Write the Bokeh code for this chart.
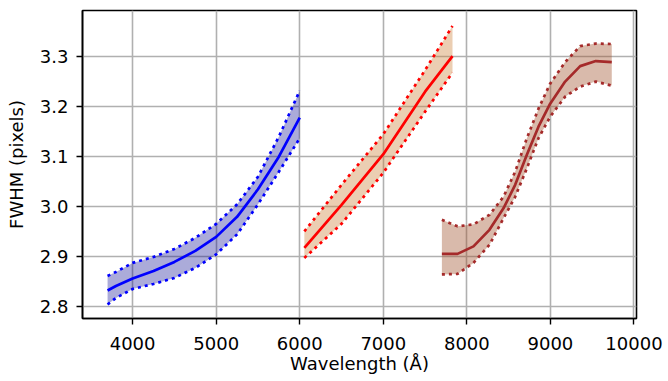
from bokeh.plotting import figure
from bokeh.models import Range1d, FixedTicker
from bokeh.embed import file_html
from bokeh.resources import INLINE

# Blue segment
blue_x = [3700, 3800, 4000, 4250, 4500, 4750, 5000, 5250, 5500, 5750, 6000]
blue_mid = [2.833, 2.842, 2.857, 2.872, 2.890, 2.912, 2.940, 2.980, 3.035, 3.100, 3.178]
blue_hi = [2.862, 2.870, 2.888, 2.900, 2.916, 2.938, 2.966, 3.005, 3.060, 3.140, 3.232]
blue_lo = [2.805, 2.818, 2.836, 2.846, 2.858, 2.878, 2.905, 2.945, 3.005, 3.070, 3.137]

# Red segment
red_x = [6055, 6500, 7000, 7500, 7828]
red_mid = [2.918, 3.004, 3.105, 3.230, 3.301]
red_hi = [2.951, 3.044, 3.145, 3.273, 3.361]
red_lo = [2.898, 2.966, 3.068, 3.190, 3.268]

# Brown segment
brown_x = [7701, 7888, 8079, 8270, 8438, 8578, 8718, 8857, 8997, 9176, 9356, 9543, 9734]
brown_mid = [2.906, 2.906, 2.921, 2.954, 2.997, 3.044, 3.104, 3.160, 3.206, 3.250, 3.281, 3.291, 3.289]
brown_hi = [2.974, 2.961, 2.965, 2.984, 3.020, 3.070, 3.137, 3.196, 3.246, 3.289, 3.321, 3.326, 3.325]
brown_lo = [2.865, 2.866, 2.888, 2.924, 2.977, 3.020, 3.077, 3.137, 3.180, 3.220, 3.240, 3.250, 3.242]

x_ticks = [4000, 5000, 6000, 7000, 8000, 9000, 10000]
y_ticks = [2.8, 2.9, 3.0, 3.1, 3.2, 3.3]
y_tick_labels = {2.8: "2.8", 2.9: "2.9", 3.0: "3.0", 3.1: "3.1", 3.2: "3.2", 3.3: "3.3"}

p = figure(frame_width=554, frame_height=308, output_backend="svg", toolbar_location=None,
           x_range=Range1d(3400, 10030), y_range=Range1d(2.777, 3.392),
           min_border_left=82, min_border_right=32, min_border_top=10, min_border_bottom=63)

FONT = "DejaVu Sans"

segments = [
    (blue_x, blue_mid, blue_hi, blue_lo, "blue", "darkblue", 0.33),
    (red_x, red_mid, red_hi, red_lo, "red", "peru", 0.4),
    (brown_x, brown_mid, brown_hi, brown_lo, "brown", "sienna", 0.4),
]
for xs, mid, hi, lo, lc, fc, fa in segments:
    p.varea(x=xs, y1=lo, y2=hi, fill_color=fc, fill_alpha=fa)
    p.line(xs, hi, line_color=lc, line_width=2.7, line_dash="3 4")
    p.line(xs, lo, line_color=lc, line_width=2.7, line_dash="3 4")
    p.line(xs, mid, line_color=lc, line_width=2.7)

p.xaxis.ticker = FixedTicker(ticks=x_ticks)
p.yaxis.ticker = FixedTicker(ticks=y_ticks)
p.yaxis.major_label_overrides = y_tick_labels
p.xaxis.axis_label = "Wavelength (Å)"
p.yaxis.axis_label = "FWHM (pixels)"

for ax in [p.xaxis[0], p.yaxis[0]]:
    ax.major_label_text_font = FONT
    ax.major_label_text_font_size = "18px"
    ax.major_label_text_color = "black"
    ax.axis_label_text_font = FONT
    ax.axis_label_text_font_size = "18px"
    ax.axis_label_text_font_style = "normal"
    ax.axis_label_text_color = "black"
    ax.minor_tick_line_color = None
    ax.major_tick_in = 0
    ax.major_tick_out = 6
    ax.major_tick_line_width = 1.4
    ax.major_tick_line_color = "black"
    ax.axis_line_color = "black"
    ax.axis_line_width = 1.6

p.xaxis.major_label_standoff = 12
p.xaxis.axis_label_standoff = 0
p.yaxis.major_label_standoff = 8
p.yaxis.axis_label_standoff = 10

p.grid.grid_line_color = "#b0b0b0"
p.grid.grid_line_width = 1.6
p.outline_line_color = "black"
p.outline_line_width = 1.6
p.outline_line_alpha = 1.0
p.background_fill_color = "white"
p.border_fill_color = "white"

open("out.html", "w").write(file_html(p, INLINE))
